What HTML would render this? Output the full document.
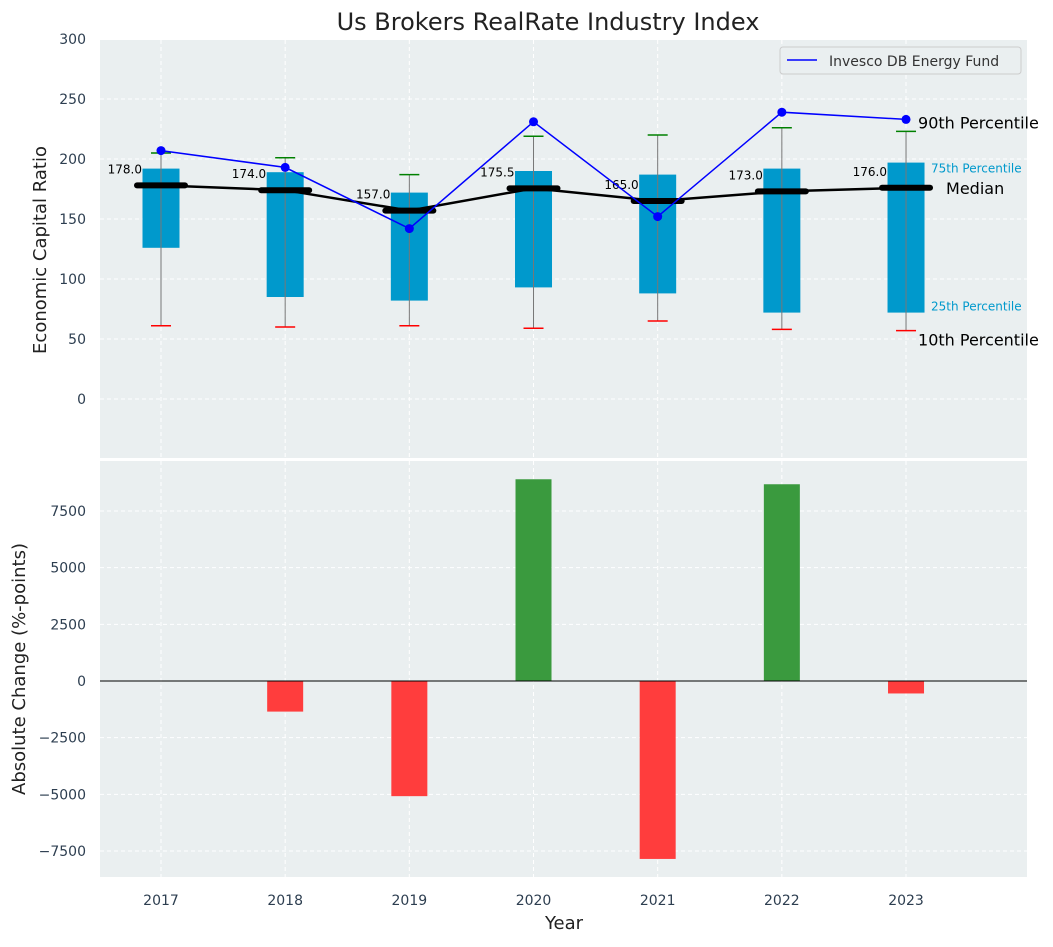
<!DOCTYPE html>
<html><head><meta charset="utf-8"><style>
body{margin:0;background:#fff;font-family:"Liberation Sans","DejaVu Sans",sans-serif}
</style></head><body>
<svg id="c" width="1053" height="942" xmlns="http://www.w3.org/2000/svg" font-family="DejaVu Sans, Liberation Sans, sans-serif"></svg>
<script>
const years=[2017,2018,2019,2020,2021,2022,2023];
const q10=[61,60,61,59,65,58,57];
const q25=[126,85,82,93,88,72,72];
const medians=[178,174,157,175.5,165,173,176];
const q75=[192,189,172,190,187,192,197];
const q90=[205,201,187,219,220,226,223];
const energyFund=[207,193,142,231,152,239,233];
const changes=[0,-1350,-5080,8900,-7850,8680,-550];
const topTicks=[0,50,100,150,200,250,300];
const botTicks=[-7500,-5000,-2500,0,2500,5000,7500];

const svg=document.getElementById('c');const NS='http://www.w3.org/2000/svg';
function el(t,a,p){const e=document.createElementNS(NS,t);for(const k in a)e.setAttribute(k,a[k]);(p||svg).appendChild(e);return e;}
const L=100,R=1027;
const x=i=>161+i*124.17;
const yT=v=>399-v*1.2;
const yB=v=>681-v*0.022667;

let e=el('rect',{x:L,y:40,width:R-L,height:418,fill:'#eaeff0'});

e=el('rect',{x:L,y:461,width:R-L,height:416,fill:'#eaeff0'});


years.forEach((y,i)=>{
 el('line',{x1:x(i),x2:x(i),y1:40,y2:458,stroke:'#fff','stroke-dasharray':'4,3'});
 el('line',{x1:x(i),x2:x(i),y1:461,y2:877,stroke:'#fff','stroke-dasharray':'4,3'});
 e=el('text',{x:x(i),y:905,'text-anchor':'middle','font-size':14,fill:'#2d3e50'});e.textContent=y;
 
});
topTicks.forEach(v=>{
 el('line',{x1:L,x2:R,y1:yT(v),y2:yT(v),stroke:'#fff','stroke-dasharray':'4,3'});
 e=el('text',{x:86,y:yT(v)+5,'text-anchor':'end','font-size':14,fill:'#2d3e50'});e.textContent=v;
 
});
botTicks.forEach(v=>{
 el('line',{x1:L,x2:R,y1:yB(v),y2:yB(v),stroke:'#fff','stroke-dasharray':'4,3'});
 e=el('text',{x:86,y:yB(v)+5,'text-anchor':'end','font-size':14,fill:'#2d3e50'});e.textContent=v.toString().replace('-','\u2212');
 
});

years.forEach((y,i)=>{
 const cx=x(i);
 e=el('rect',{x:cx-18.5,y:yT(q75[i]),width:37,height:yT(q25[i])-yT(q75[i]),fill:'#0099cc'});
 
 el('line',{x1:cx,x2:cx,y1:yT(q90[i]),y2:yT(q10[i]),stroke:'#777','stroke-width':1});
 el('line',{x1:cx-10,x2:cx+10,y1:yT(q90[i]),y2:yT(q90[i]),stroke:'green','stroke-width':1.5});
 el('line',{x1:cx-10,x2:cx+10,y1:yT(q10[i]),y2:yT(q10[i]),stroke:'red','stroke-width':1.5});
 e=el('line',{x1:cx-24,x2:cx+24,y1:yT(medians[i]),y2:yT(medians[i]),stroke:'#000','stroke-width':6,'stroke-linecap':'round'});
 
 e=el('text',{x:cx-19,y:yT(medians[i])-12,'text-anchor':'end','font-size':12});e.textContent=medians[i].toFixed(1);
 
});
e=el('polyline',{points:medians.map((v,i)=>x(i)+','+yT(v)).join(' '),fill:'none',stroke:'#000','stroke-width':2.5});

e=el('polyline',{points:energyFund.map((v,i)=>x(i)+','+yT(v)).join(' '),fill:'none',stroke:'blue','stroke-width':1.5});

energyFund.forEach((v,i)=>{e=el('circle',{cx:x(i),cy:yT(v),r:4.5,fill:'blue'});
 });

const n=6;
[['90th Percentile',x(n)+12,yT(q90[n])-3,16,'#000'],['75th Percentile',x(n)+25,yT(q75[n])+10,12,'#0099cc'],
 ['Median',x(n)+40,yT(medians[n])+6,16,'#000'],['25th Percentile',x(n)+25,yT(q25[n])-2,12,'#0099cc'],
 ['10th Percentile',x(n)+12,yT(q10[n])+15,16,'#000']].forEach(a=>{
 e=el('text',{x:a[1],y:a[2],'font-size':a[3],fill:a[4]});e.textContent=a[0];
 });

const g=el('g',{});
el('rect',{x:780,y:47,width:241,height:27,rx:3,fill:'#eaeff0',stroke:'#ccc'},g);
el('line',{x1:787,x2:817,y1:60,y2:60,stroke:'blue','stroke-width':1.5},g);
e=el('text',{x:829,y:66,'font-size':14,fill:'#333'},g);e.textContent='Invesco DB Energy Fund';

changes.forEach((v,i)=>{
 e=el('rect',{x:x(i)-18,y:Math.min(yB(v),yB(0)),width:36,height:Math.abs(yB(v)-yB(0)),fill:v>=0?'#3a9a3e':'#ff3d3d'});
 
});
el('line',{x1:L,x2:R,y1:yB(0),y2:yB(0),stroke:'#000','stroke-width':1});

e=el('text',{x:548,y:30,'text-anchor':'middle','font-size':24,fill:'#222'});e.textContent='Us Brokers RealRate Industry Index';

e=el('text',{x:46,y:250,'text-anchor':'middle','font-size':18,fill:'#222',transform:'rotate(-90 46 250)'});e.textContent='Economic Capital Ratio';

e=el('text',{x:25,y:669,'text-anchor':'middle','font-size':18,fill:'#222',transform:'rotate(-90 25 669)'});e.textContent='Absolute Change (%-points)';

e=el('text',{x:564,y:929,'text-anchor':'middle','font-size':18,fill:'#222'});e.textContent='Year';

</script>
</body></html>
